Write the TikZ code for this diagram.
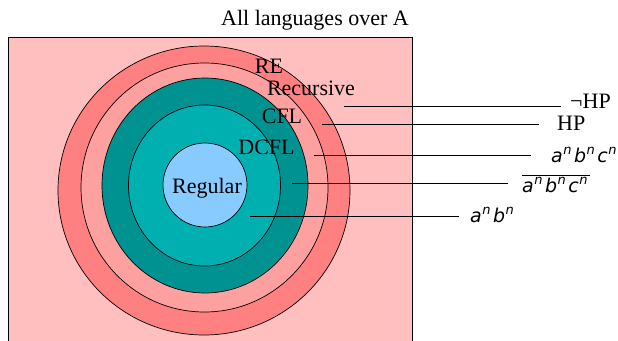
\documentclass[tikz,border=0pt]{standalone}
\usepackage{fontspec}
\setmainfont{Liberation Serif}
\newfontfamily\lblsans{DejaVu Sans}
\definecolor{bgpink}{RGB}{255,191,191}
\definecolor{rering}{RGB}{255,128,128}
\definecolor{recring}{RGB}{255,160,160}
\definecolor{cflring}{RGB}{0,145,145}
\definecolor{dcflring}{RGB}{0,176,176}
\definecolor{regfill}{RGB}{136,204,255}
\newcommand{\pw}[2]{#1\kern0.5pt\raisebox{0.42em}{\fontsize{13}{13}\selectfont #2}\kern2.5pt}
\newcommand{\slab}[1]{{\lblsans\itshape\fontsize{19}{22}\selectfont #1}}
\tikzset{
  ring/.style={draw=black, line width=0.7pt},
  word/.style={inner sep=0pt, anchor=base, font=\fontsize{22}{24}\selectfont},
  lbl/.style={inner sep=0pt, anchor=base west, font=\fontsize{22}{24}\selectfont},
  leader/.style={draw=black, line width=0.7pt}
}
\begin{document}
\begin{tikzpicture}[x=1pt,y=-1pt]
\useasboundingbox (0,0) rectangle (618,340);
\draw[fill=bgpink, draw=black, line width=0.8pt] (8,37) rectangle (412,343);
\draw[ring, fill=rering] (204,190.5) ellipse [x radius=146pt, y radius=144.5pt];
\draw[ring, fill=recring] (204.5,187.5) ellipse [x radius=123.5pt, y radius=124.5pt];
\draw[ring, fill=cflring] (205,185.5) ellipse [x radius=103pt, y radius=107.5pt];
\draw[ring, fill=dcflring] (204.5,185.5) ellipse [x radius=76pt, y radius=80.5pt];
\draw[ring, fill=regfill] (205,185) ellipse [x radius=42pt, y radius=42pt];

\node[word] (title) at (315,25) {All languages over A};
\node[word] (re) at (269,73) {RE};
\node[word] (rec) at (311,95) {Recursive};
\node[word] (cfl) at (282,123) {CFL};
\node[word] (dcfl) at (266.5,154) {DCFL};
\node[word] (reg) at (207,193) {Regular};

\node[lbl] (nhp) at (570,108) {¬HP};
\node[lbl] (hp) at (557,130) {HP};
\node[lbl] (abc) at (551,162) {\slab{\pw{a}{n}\pw{b}{n}\pw{c}{n}}};
\node[lbl] (cabc) at (522,192) {$\overline{\hbox{\slab{\pw{a}{n}\pw{b}{n}\pw{c}{n}}}}$};
\node[lbl] (ab) at (470,222) {\slab{\pw{a}{n}\pw{b}{n}}};

\coordinate (s1) at (344,106);
\coordinate (s2) at (322,124);
\coordinate (s3) at (314,155);
\coordinate (s4) at (292,183);
\coordinate (s5) at (250,216);
\coordinate (e1) at (561,106);
\coordinate (e2) at (539,124);
\coordinate (e3) at (531,155);
\coordinate (e4) at (508,183);
\coordinate (e5) at (459,216);
\draw[leader] (s1) -- (e1);
\draw[leader] (s2) -- (e2);
\draw[leader] (s3) -- (e3);
\draw[leader] (s4) -- (e4);
\draw[leader] (s5) -- (e5);
\end{tikzpicture}
\end{document}
